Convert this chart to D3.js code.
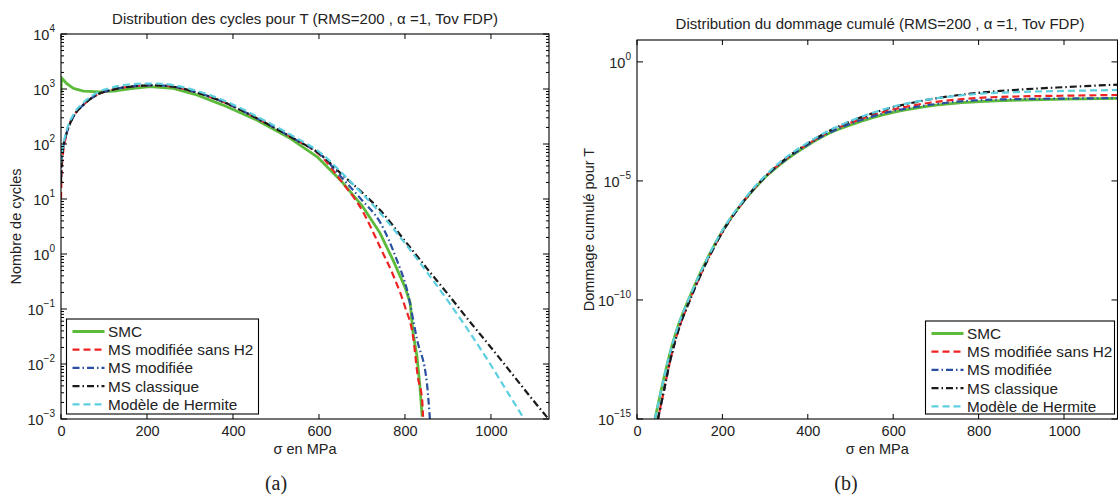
<!DOCTYPE html>
<html><head><meta charset="utf-8">
<script src="https://cdn.jsdelivr.net/npm/d3@7"></script>
<style>body{margin:0;background:#fff}svg{display:block}</style>
</head><body>
<svg id="c" width="1118" height="499"></svg>
<script>
// ---------- DATA ----------
const seriesNames = ["SMC","MS modifiée sans H2","MS modifiée","MS classique","Modèle de Hermite"];
const xTicks = [0,200,400,600,800,1000];
// left panel: number of cycles (y values)
const smcX  = [0,1,13,29,52,91,130,168,207,261,316,377,455,533,595,650,700,742,772,800,812,819,828,835,840];
const smcY  = [850,1600,1260,1030,915,890,930,1030,1100,1030,780,510,273,127,59,22,7.6,2.4,0.78,0.25,0.13,0.036,0.0135,0.0038,0.0011];
const redX  = [0,2,13,29,52,83,122,168,215,261,323,385,463,540,610,650,700,742,777,800,819,830,840,842];
const redY  = [10,40,155,315,515,780,980,1120,1170,1100,830,550,273,127,55,22,6.3,1.34,0.34,0.11,0.031,0.0058,0.0022,0.0011];
const blueX = [0,1,4,13,29,52,83,122,168,215,261,323,385,463,540,610,650,700,742,781,805,828,851,858];
const blueY = [25,45,75,155,315,515,780,980,1120,1170,1100,830,550,273,127,58,26,9.5,3.8,0.78,0.22,0.028,0.0045,0.001];
const blackX= [0,1,4,13,29,52,83,122,168,215,261,323,385,463,540,610,650,700,742,800,850,900,950,1000,1050,1100,1135];
const blackY= [20,40,75,155,315,515,780,980,1120,1170,1100,830,550,273,127,59,29.5,13.2,6.3,1.73,0.56,0.186,0.06,0.02,0.0065,0.0021,0.00098];
const cyanX = [0,1,4,13,29,52,83,122,168,215,261,323,385,463,540,610,650,700,742,800,850,900,950,1000,1050,1074];
const cyanY = [45,60,85,175,345,560,850,1080,1230,1260,1180,890,590,295,138,63,31.6,12.6,5.6,1.57,0.48,0.14,0.038,0.0095,0.0022,0.0011];
// right panel: cumulated damage (log10 values)
const dmgX      = [42,62,77,93,125,150,200,250,300,350,400,450,500,550,600,650,700,750,800,900,1000,1130];
const dmgSMC    = [-15,-13.36,-12.24,-11.26,-9.8,-8.8,-7.1,-5.85,-4.85,-4.1,-3.5,-3.0,-2.65,-2.35,-2.12,-1.95,-1.82,-1.73,-1.67,-1.6,-1.56,-1.53];
const dmgRed    = [-15.6,-13.9,-12.6,-11.5,-9.95,-8.9,-7.15,-5.85,-4.83,-4.06,-3.45,-2.94,-2.56,-2.25,-2.0,-1.82,-1.68,-1.58,-1.51,-1.45,-1.42,-1.39];
const dmgBlue   = [-15.6,-13.9,-12.6,-11.5,-9.95,-8.9,-7.15,-5.85,-4.84,-4.08,-3.48,-2.98,-2.6,-2.3,-2.06,-1.9,-1.77,-1.67,-1.61,-1.56,-1.54,-1.52];
const dmgBlack  = [-15.6,-13.9,-12.6,-11.5,-9.95,-8.9,-7.15,-5.85,-4.82,-4.04,-3.42,-2.9,-2.5,-2.17,-1.9,-1.7,-1.53,-1.4,-1.3,-1.16,-1.06,-0.95];
const dmgCyan   = [-15,-13.36,-12.24,-11.26,-9.8,-8.8,-7.08,-5.8,-4.78,-4.0,-3.39,-2.88,-2.48,-2.15,-1.88,-1.68,-1.53,-1.42,-1.34,-1.26,-1.22,-1.18];

// ---------- STYLE ----------
const colors = ["#5dbb3c","#ee2222","#2a4fa0","#1a1a1a","#5ccfe0"];
const widths = [2.8,2.2,2.2,2.2,2.2];
const dashes = [null,"7,4","7,3,1.5,3","7,3,1.5,3","7,4"];
const FONT = "'Liberation Sans', Arial, Helvetica, sans-serif";

const svg = d3.select("#c");

function panel(cfg){
  const g = svg.append("g");
  const x = d3.scaleLinear().domain(cfg.xDomain).range([cfg.x0,cfg.x1]);
  const y = d3.scaleLog().domain(cfg.yDomain).range([cfg.y1,cfg.y0]);
  const clipId = "clip"+cfg.id;
  svg.append("clipPath").attr("id",clipId).append("rect")
     .attr("x",cfg.x0).attr("y",cfg.y0).attr("width",cfg.x1-cfg.x0).attr("height",cfg.y1-cfg.y0);
  const lg = g.append("g").attr("clip-path",`url(#${clipId})`);
  [0,1,2,3,4].forEach(i=>{
    const line = d3.line().x(d=>x(d[0])).y(d=>y(d[1]))
      .curve(i===0 && cfg.id==="a" ? d3.curveLinear : d3.curveMonotoneX);
    lg.append("path").attr("d",line(cfg.series[i])).attr("fill","none")
      .attr("stroke",colors[i]).attr("stroke-width",widths[i])
      .attr("stroke-linejoin","round")
      .attr("stroke-dasharray",dashes[i]);
  });
  // box
  g.append("rect").attr("x",cfg.x0).attr("y",cfg.y0).attr("width",cfg.x1-cfg.x0).attr("height",cfg.y1-cfg.y0)
   .attr("fill","none").attr("stroke","#000").attr("stroke-width",1.1);
  // x ticks (bottom + top, inward)
  const xa = d3.axisBottom(x).tickValues(xTicks).tickSize(0).tickFormat(d3.format("d"));
  const xg = g.append("g").attr("transform",`translate(0,${cfg.y1})`).call(xa);
  xg.select(".domain").remove();
  xg.selectAll("text").attr("dy",null).attr("y",17).style("font-family",FONT).style("font-size","14.5px").attr("fill","#222");
  xTicks.forEach(t=>{
    g.append("line").attr("x1",x(t)).attr("x2",x(t)).attr("y1",cfg.y1).attr("y2",cfg.y1-5).attr("stroke","#000");
    g.append("line").attr("x1",x(t)).attr("x2",x(t)).attr("y1",cfg.y0).attr("y2",cfg.y0+5).attr("stroke","#000");
  });
  // y ticks
  cfg.yTicks.forEach(e=>{
    const yy = y(Math.pow(10,e));
    g.append("line").attr("x1",cfg.x0).attr("x2",cfg.x0+6).attr("y1",yy).attr("y2",yy).attr("stroke","#000");
    g.append("line").attr("x1",cfg.x1).attr("x2",cfg.x1-6).attr("y1",yy).attr("y2",yy).attr("stroke","#000");
    const t = g.append("text").attr("x",cfg.x0-6).attr("y",yy+6).attr("text-anchor","end")
      .style("font-family",FONT).style("font-size","14.5px").attr("fill","#222");
    t.append("tspan").text("10");
    t.append("tspan").attr("dy",-8).style("font-size","10px").text(String(e).replace("-","\u2212"));
  });
  if(cfg.minor){
    const [a,b]=cfg.yDomain.map(v=>Math.round(Math.log10(v)));
    for(let e=a;e<b;e++) for(let m=2;m<=9;m++){
      const yy=y(m*Math.pow(10,e));
      g.append("line").attr("x1",cfg.x0).attr("x2",cfg.x0+3).attr("y1",yy).attr("y2",yy).attr("stroke","#000");
      g.append("line").attr("x1",cfg.x1).attr("x2",cfg.x1-3).attr("y1",yy).attr("y2",yy).attr("stroke","#000");
    }
  }
  // titles
  const cx=(cfg.x0+cfg.x1)/2;
  g.append("text").attr("x",cfg.titleX||cx).attr("y",cfg.titleY).attr("text-anchor","middle")
   .style("font-family",FONT).style("font-size","15px").attr("fill","#222").text(cfg.title);
  g.append("text").attr("x",cx).attr("y",454).attr("text-anchor","middle")
   .style("font-family",FONT).style("font-size","14.5px").attr("fill","#222").text("σ en MPa");
  g.append("text").attr("transform",`translate(${cfg.ylabX},${(cfg.y0+cfg.y1)/2}) rotate(-90)`).attr("text-anchor","middle")
   .style("font-family",FONT).style("font-size","14.5px").attr("fill","#222").text(cfg.ylab);
  g.append("text").attr("x",cfg.subX).attr("y",490).attr("text-anchor","middle")
   .style("font-family","'Liberation Serif','DejaVu Serif',serif").style("font-size","20px").attr("fill","#222").text(cfg.sub);
  // legend
  const L=cfg.legend;
  g.append("rect").attr("x",L.x).attr("y",L.y).attr("width",L.w).attr("height",L.h).attr("fill","#fff").attr("stroke","#000").attr("stroke-width",1.1);
  seriesNames.forEach((n,i)=>{
    const yy=L.y+12.5+i*18.2;
    g.append("line").attr("x1",L.x+6).attr("x2",L.x+38).attr("y1",yy).attr("y2",yy)
     .attr("stroke",colors[i]).attr("stroke-width",widths[i]).attr("stroke-dasharray",dashes[i]);
    g.append("text").attr("x",L.x+41.5).attr("y",yy+5.5).style("font-family",FONT).style("font-size","15.3px").attr("fill","#222").text(n);
  });
}

const zip=(xs,ys)=>xs.map((v,i)=>[v,ys[i]]);
const zipL=(xs,ls)=>xs.map((v,i)=>[v,Math.pow(10,ls[i])]);

panel({id:"a",x0:61,x1:549,y0:34,y1:419,xDomain:[0,1135],yDomain:[1e-3,1e4],
  yTicks:[4,3,2,1,0,-1,-2,-3],minor:true,
  series:[zip(smcX,smcY),zip(redX,redY),zip(blueX,blueY),zip(blackX,blackY),zip(cyanX,cyanY)],
  title:"Distribution des cycles pour T (RMS=200 , α =1, Tov FDP)",titleY:24,
  ylab:"Nombre de cycles",ylabX:21,sub:"(a)",subX:276,
  legend:{x:66.5,y:319,w:192,h:95}});

panel({id:"b",x0:637,x1:1117.5,y0:40,y1:419,xDomain:[0,(1117.5-637)/0.427],yDomain:[1e-15,Math.pow(10,0.92)],
  yTicks:[0,-5,-10,-15],minor:false,
  series:[zipL(dmgX,dmgSMC),zipL(dmgX,dmgRed),zipL(dmgX,dmgBlue),zipL(dmgX,dmgBlack),zipL(dmgX,dmgCyan)],
  title:"Distribution du dommage cumulé (RMS=200 , α =1, Tov FDP)",titleY:29,titleX:880,
  ylab:"Dommage cumulé pour T",ylabX:594,sub:"(b)",subX:846,
  legend:{x:925.5,y:321,w:189,h:93}});
</script>
</body></html>
